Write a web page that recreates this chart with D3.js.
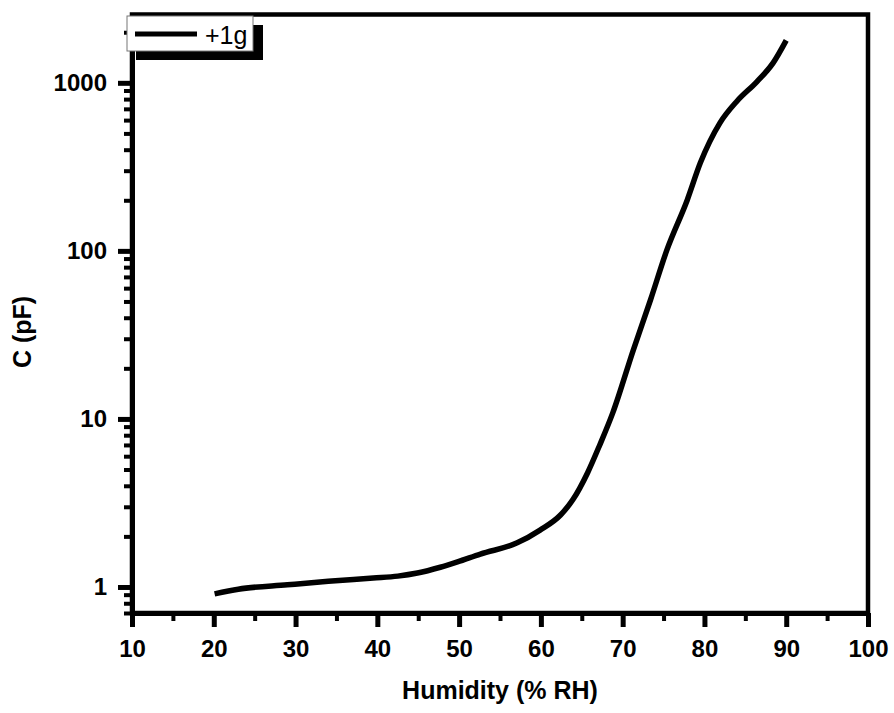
<!DOCTYPE html>
<html>
<head>
<meta charset="utf-8">
<script src="https://cdn.jsdelivr.net/npm/d3@7/dist/d3.min.js"></script>
<style>
  html, body { margin: 0; padding: 0; background: #fff; }
  svg { display: block; }
  text { font-family: "Liberation Sans", Arial, sans-serif; }
</style>
</head>
<body>
<script>
// ---- data ----
const humidity    = [20.1, 23.0, 29.0, 34.0, 39.5, 42.5, 44.9, 47.7, 49.8, 52.6, 57.1, 59.9, 62.4, 63.9, 65.7, 67.2, 68.8, 71.3, 73.4, 75.4, 77.9, 79.5, 81.9, 84.0, 86.4, 88.4, 90.0];
const capacitance = [0.91, 0.97, 1.03, 1.08, 1.13, 1.16, 1.21, 1.31, 1.41, 1.57, 1.83, 2.18, 2.68, 3.3, 4.77, 7.0, 10.9, 25.7, 51, 101, 201, 334, 578, 780, 1014, 1315, 1790];
const seriesName = "+1g";
const xTickValues = [10, 20, 30, 40, 50, 60, 70, 80, 90, 100];
const xMinorValues = [15, 25, 35, 45, 55, 65, 75, 85, 95];
const yTickValues = [1, 10, 100, 1000];
const yTickLabels = ["1", "10", "100", "1000"];
const yMinorValues = [0.7, 0.8, 0.9, 2, 3, 4, 5, 6, 7, 8, 9, 20, 30, 40, 50, 60, 70, 80, 90, 200, 300, 400, 500, 600, 700, 800, 900, 2000];
const xTitle = "Humidity (% RH)";
const yTitle = "C (pF)";

// ---- layout ----
const W = 894, H = 713;
const L = 132, R = 868, T = 14.5, B = 613;
const FONT = "Liberation Sans, Arial, sans-serif";

const svg = d3.select("body").append("svg").attr("width", W).attr("height", H);

const x = d3.scaleLinear().domain([10, 100]).range([L, R]);
const y = d3.scaleLog().domain([0.7, 2550]).range([B, T]);

// frame (top/right)
svg.append("rect")
  .attr("x", L).attr("y", T).attr("width", R - L).attr("height", B - T)
  .attr("fill", "none").attr("stroke", "#000").attr("stroke-width", 4.5);

// minor x ticks
const gxMinor = svg.append("g").attr("transform", `translate(0,${B})`)
  .call(d3.axisBottom(x).tickValues(xMinorValues).tickSize(8).tickFormat(""));
gxMinor.select(".domain").remove();
gxMinor.selectAll("line").attr("stroke-width", 4);

// major x axis
const gx = svg.append("g").attr("transform", `translate(0,${B})`)
  .call(d3.axisBottom(x).tickValues(xTickValues).tickSizeInner(14).tickSizeOuter(0).tickPadding(13).tickFormat(d3.format("d")));
gx.select(".domain").attr("stroke-width", 5);
gx.selectAll("line").attr("stroke-width", 5);
gx.selectAll("text").attr("font-size", 24).attr("font-weight", "bold").attr("fill", "#000")
  .attr("font-family", FONT);

// minor y ticks
const gyMinor = svg.append("g").attr("transform", `translate(${L},0)`)
  .call(d3.axisLeft(y).tickValues(yMinorValues).tickSize(8).tickFormat(""));
gyMinor.select(".domain").remove();
gyMinor.selectAll("line").attr("stroke-width", 4);

// major y axis
const gy = svg.append("g").attr("transform", `translate(${L},0)`)
  .call(d3.axisLeft(y).tickValues(yTickValues).tickSizeInner(14).tickSizeOuter(0).tickPadding(11)
    .tickFormat((d, i) => yTickLabels[i]));
gy.select(".domain").attr("stroke-width", 5);
gy.selectAll("line").attr("stroke-width", 5);
gy.selectAll("text").attr("font-size", 24).attr("font-weight", "bold").attr("fill", "#000")
  .attr("font-family", FONT);

// curve
const pts = humidity.map((h, i) => [h, capacitance[i]]);
svg.append("path")
  .datum(pts)
  .attr("fill", "none").attr("stroke", "#000").attr("stroke-width", 5.5)
  .attr("stroke-linejoin", "round")
  .attr("d", d3.line().x(d => x(d[0])).y(d => y(d[1])).curve(d3.curveMonotoneX));

// axis titles
svg.append("text")
  .attr("x", 500).attr("y", 699)
  .attr("text-anchor", "middle").attr("font-size", 25).attr("font-weight", "bold")
  .text(xTitle);
svg.append("text")
  .attr("transform", `translate(31,332) rotate(-90)`)
  .attr("text-anchor", "middle").attr("font-size", 25).attr("font-weight", "bold")
  .text(yTitle);

// legend with shadow
const lg = svg.append("g");
lg.append("rect").attr("x", 136).attr("y", 25).attr("width", 127).attr("height", 35).attr("fill", "#000");
lg.append("rect").attr("x", 127).attr("y", 16).attr("width", 126).attr("height", 35)
  .attr("fill", "#fff").attr("stroke", "#777").attr("stroke-width", 1);
lg.append("line").attr("x1", 135).attr("x2", 197).attr("y1", 34).attr("y2", 34)
  .attr("stroke", "#000").attr("stroke-width", 5);
lg.append("text").attr("x", 205).attr("y", 44).attr("font-size", 25).text(seriesName);
</script>
</body>
</html>
